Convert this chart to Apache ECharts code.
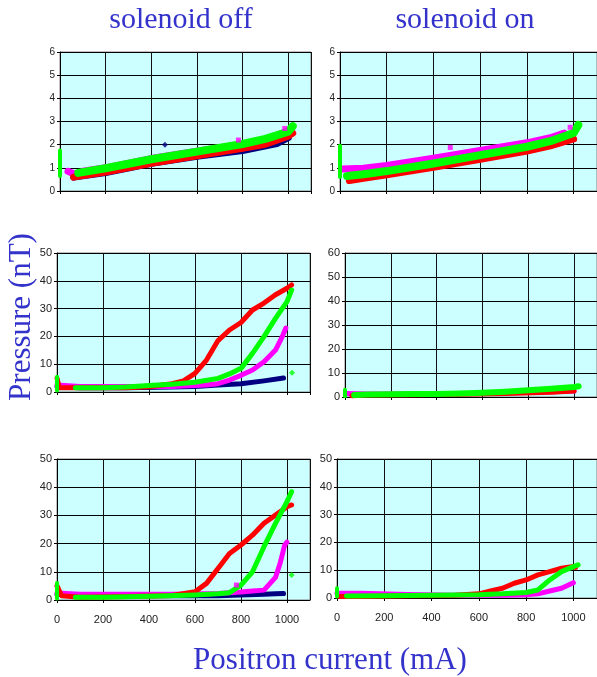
<!DOCTYPE html>
<html>
<head>
<meta charset="utf-8">
<script src="https://cdn.jsdelivr.net/npm/echarts@6/dist/echarts.min.js"></script>
<style>
  html, body { margin: 0; padding: 0; background: #fff; }
  #chart { width: 597px; height: 677px; }
</style>
</head>
<body>
<div id="chart"></div>
<script>
// axis setup per panel (off/on x top/mid/bottom)
const xTicks = [0, 200, 400, 600, 800, 1000]
const yMaxes = [6, 6, 50, 60, 50, 50]
const ySteps = [1, 1, 10, 10, 10, 10]

// [mA, nT]
// top row, solenoid off
const topOffNavy = [[60, 0.6], [200, 0.8], [400, 1.2], [600, 1.5], [800, 1.75], [950, 2.05], [1000, 2.3]]
const topOffMagenta = [[35, 0.85], [70, 0.7], [100, 0.85], [200, 1.0], [400, 1.4], [600, 1.72], [800, 2.02], [900, 2.2], [1000, 2.6]]
const topOffRed = [[60, 0.6], [100, 0.67], [200, 0.82], [400, 1.2], [600, 1.52], [800, 1.84], [900, 2.02], [1000, 2.37], [1020, 2.5]]
const topOffGreen = [[80, 0.78], [200, 0.98], [400, 1.37], [600, 1.7], [800, 2.03], [900, 2.25], [1000, 2.56], [1020, 2.8]]
const topOffGreenSpike = [[0, 0.65], [0, 1.75]]
const topOffNavyDots = [[460, 2.0]]
const topOffMagentaDots = [[782, 2.2], [985, 2.7]]

// top row, solenoid on
const topOnMagenta = [[10, 0.95], [100, 0.98], [200, 1.1], [400, 1.42], [600, 1.75], [800, 2.08], [900, 2.3], [960, 2.5]]
const topOnRed = [[40, 0.45], [100, 0.55], [200, 0.7], [400, 1.02], [600, 1.37], [800, 1.72], [900, 1.95], [1000, 2.25]]
const topOnGreen = [[30, 0.65], [100, 0.72], [200, 0.86], [400, 1.19], [600, 1.55], [800, 1.91], [900, 2.15], [1000, 2.5], [1020, 2.85]]
const topOnGreenSpike = [[0, 0.6], [0, 1.95]]
const topOnMagentaDots = [[472, 1.88], [985, 2.75]]

// middle row, solenoid off
const midOffNavy = [[0, 2], [100, 1.5], [300, 1.5], [500, 1.8], [600, 2], [700, 2.5], [800, 3], [900, 4], [985, 5]]
const midOffMagenta = [[0, 2.5], [100, 2], [500, 2], [650, 2.5], [700, 3], [750, 4.3], [800, 6], [850, 7.9], [900, 10.9], [950, 15.1], [980, 20], [995, 23]]
const midOffRed = [[0, 5], [10, 1.5], [300, 1.5], [400, 1.9], [500, 3], [550, 4], [600, 6.7], [650, 11.5], [700, 18.5], [750, 22.3], [800, 25], [850, 29.5], [900, 32], [950, 35], [1000, 37.3], [1020, 38.5]]
const midOffGreen = [[80, 1.5], [200, 1.5], [300, 1.8], [400, 2.3], [500, 2.8], [600, 3.5], [700, 4.9], [750, 6.5], [800, 8.5], [850, 13.9], [900, 19.9], [950, 26.5], [1000, 32.5], [1020, 36.7]]
const midOffGreenSpike = [[0, 0.5], [0, 5.5]]
const midOffGreenDots = [[1022, 6.9]]

// middle row, solenoid on
const midOnMagenta = [[10, 1.5], [100, 1.2], [400, 1.3], [700, 1.7], [900, 2.2], [1000, 2.5]]
const midOnRed = [[30, 0.5], [100, 0.8], [300, 0.9], [500, 1.1], [700, 1.5], [900, 2], [1000, 2.5]]
const midOnGreen = [[40, 0.8], [100, 1], [200, 1.1], [300, 1.2], [400, 1.3], [500, 1.5], [600, 1.8], [700, 2.2], [800, 2.8], [900, 3.4], [1000, 4.2], [1020, 4.5]]
const midOnGreenSpike = [[0, 0.3], [0, 3]]

// bottom row, solenoid off
const botOffNavy = [[0, 2], [100, 1.5], [500, 1.5], [700, 1.5], [800, 1.8], [900, 2], [950, 2.2], [985, 2.3]]
const botOffMagenta = [[0, 2.5], [100, 2], [300, 2], [500, 2], [700, 2.3], [800, 2.8], [850, 3.2], [900, 3.5], [950, 8], [970, 13], [990, 19.5], [1000, 20.5]]
const botOffRed = [[0, 5], [20, 1.5], [100, 1], [300, 1.2], [500, 1.6], [600, 2.9], [650, 5.9], [700, 11.2], [750, 16.5], [800, 19.5], [850, 23], [900, 27.2], [950, 30.1], [1000, 33.1], [1020, 33.7]]
const botOffGreen = [[80, 1], [200, 1], [400, 1.3], [600, 1.8], [700, 2.2], [750, 2.6], [800, 5.3], [850, 10], [900, 18.9], [950, 27.2], [1000, 34.9], [1020, 38.4]]
const botOffGreenSpike = [[0, 0.5], [0, 6]]
const botOffMagentaDots = [[780, 5.3]]
const botOffGreenDots = [[1020, 8.9]]

// bottom row, solenoid on
const botOnMagenta = [[0, 1.7], [100, 1.7], [300, 1.3], [500, 1], [700, 1], [800, 1.2], [850, 1.5], [900, 2.5], [950, 3.5], [1000, 5.5]]
const botOnRed = [[10, 0.5], [100, 0.5], [300, 0.8], [500, 1], [600, 1.5], [650, 2.5], [700, 3.5], [750, 5.3], [800, 6.5], [850, 8.3], [900, 9.5], [950, 10.7], [1000, 11.3], [1010, 11]]
const botOnGreen = [[40, 0.7], [200, 0.8], [400, 1], [600, 1.2], [700, 1.5], [800, 2], [850, 2.9], [900, 6.5], [950, 9.5], [1000, 11.3], [1020, 11.9]]
const botOnGreenSpike = [[0, 0.5], [0, 3.5]]

const NAVY = '#000080'
const MAGENTA = '#ff00ff'
const RED = '#ff0000'
const GREEN = '#00ff00'
const BLUE_TEXT = '#3333cc'

const grids = [
  { left: 60, top: 52, width: 251, height: 139 },
  { left: 340, top: 52, width: 258, height: 139 },
  { left: 57, top: 253, width: 253, height: 139 },
  { left: 345, top: 253, width: 253, height: 144 },
  { left: 57, top: 459, width: 253, height: 141 },
  { left: 337, top: 459, width: 262, height: 139 }
]

const band = (g, color, data, width, z) => ({
  type: 'line',
  xAxisIndex: g,
  yAxisIndex: g,
  data: data,
  showSymbol: false,
  silent: true,
  z: z,
  lineStyle: { color: color, width: width, cap: 'round', join: 'round' },
  itemStyle: { color: color }
})

const dots = (g, color, data, symbol, size) => ({
  type: 'scatter',
  xAxisIndex: g,
  yAxisIndex: g,
  data: data,
  symbol: symbol,
  symbolSize: size,
  silent: true,
  z: 10,
  itemStyle: { color: color }
})

const series = [
  band(0, NAVY, topOffNavy, 7, 2),
  band(0, MAGENTA, topOffMagenta, 7, 3),
  band(0, RED, topOffRed, 7, 4),
  band(0, GREEN, topOffGreen, 8, 5),
  band(0, GREEN, topOffGreenSpike, 4, 5),
  dots(0, NAVY, topOffNavyDots, 'diamond', 6),
  dots(0, MAGENTA, topOffMagentaDots, 'rect', 5),

  band(1, MAGENTA, topOnMagenta, 7, 3),
  band(1, RED, topOnRed, 7, 4),
  band(1, GREEN, topOnGreen, 8, 5),
  band(1, GREEN, topOnGreenSpike, 4, 5),
  dots(1, MAGENTA, topOnMagentaDots, 'rect', 5),

  band(2, NAVY, midOffNavy, 5, 2),
  band(2, MAGENTA, midOffMagenta, 5, 3),
  band(2, RED, midOffRed, 5, 4),
  band(2, GREEN, midOffGreen, 5, 5),
  band(2, GREEN, midOffGreenSpike, 4, 5),
  dots(2, GREEN, midOffGreenDots, 'diamond', 6),

  band(3, MAGENTA, midOnMagenta, 5, 3),
  band(3, RED, midOnRed, 5, 4),
  band(3, GREEN, midOnGreen, 6, 5),
  band(3, GREEN, midOnGreenSpike, 4, 5),

  band(4, NAVY, botOffNavy, 5, 2),
  band(4, MAGENTA, botOffMagenta, 5, 3),
  band(4, RED, botOffRed, 5, 4),
  band(4, GREEN, botOffGreen, 5, 5),
  band(4, GREEN, botOffGreenSpike, 4, 5),
  dots(4, MAGENTA, botOffMagentaDots, 'rect', 5),
  dots(4, GREEN, botOffGreenDots, 'diamond', 6),

  band(5, MAGENTA, botOnMagenta, 5, 3),
  band(5, RED, botOnRed, 5, 4),
  band(5, GREEN, botOnGreen, 5, 5),
  band(5, GREEN, botOnGreenSpike, 4, 5)
]

const tickFont = 'Liberation Sans Narrow, Liberation Sans, Arial, sans-serif'

const xAxes = grids.map((g, i) => ({
  type: 'value',
  gridIndex: i,
  min: xTicks[0],
  max: 1100,
  interval: xTicks[1] - xTicks[0],
  axisLine: { lineStyle: { color: '#000', width: 1 } },
  axisTick: { show: true, length: 3, lineStyle: { color: '#000' } },
  axisLabel: {
    show: i >= 4,
    showMaxLabel: false,
    formatter: v => String(v),
    color: '#222',
    fontFamily: tickFont,
    fontSize: 11,
    margin: 14
  },
  splitLine: { show: true, lineStyle: { color: '#111', width: 1 } }
}))

const yAxes = grids.map((g, i) => ({
  type: 'value',
  gridIndex: i,
  min: 0,
  max: yMaxes[i],
  interval: ySteps[i],
  axisLine: { show: true, lineStyle: { color: '#000', width: 1 } },
  axisTick: { show: true, length: 3, lineStyle: { color: '#000' } },
  axisLabel: {
    color: '#222',
    fontFamily: tickFont,
    fontSize: i < 2 ? 10 : 11,
    margin: 5
  },
  splitLine: { show: true, lineStyle: { color: '#000', width: 1 } }
}))

const serif = 'Liberation Serif, Times New Roman, serif'

const chart = echarts.init(document.getElementById('chart'))
chart.setOption({
  animation: false,
  backgroundColor: '#fff',
  grid: grids.map(g => Object.assign({
    show: true,
    backgroundColor: '#ccffff',
    borderColor: '#808080',
    borderWidth: 1
  }, g)),
  xAxis: xAxes,
  yAxis: yAxes,
  series: series,
  graphic: [
    { type: 'text', style: { text: 'solenoid off', x: 181, y: 20, align: 'center', verticalAlign: 'middle', font: '30px ' + serif, fill: BLUE_TEXT } },
    { type: 'text', style: { text: 'solenoid on', x: 465, y: 20, align: 'center', verticalAlign: 'middle', font: '30px ' + serif, fill: BLUE_TEXT } },
    { type: 'text', style: { text: 'Positron current (mA)', x: 330, y: 661, align: 'center', verticalAlign: 'middle', font: '31px ' + serif, fill: BLUE_TEXT } },
    { type: 'text', x: 22, y: 317, rotation: Math.PI / 2, style: { text: 'Pressure (nT)', x: 0, y: 0, align: 'center', verticalAlign: 'middle', font: '31px ' + serif, fill: BLUE_TEXT } }
  ]
})
</script>
</body>
</html>
